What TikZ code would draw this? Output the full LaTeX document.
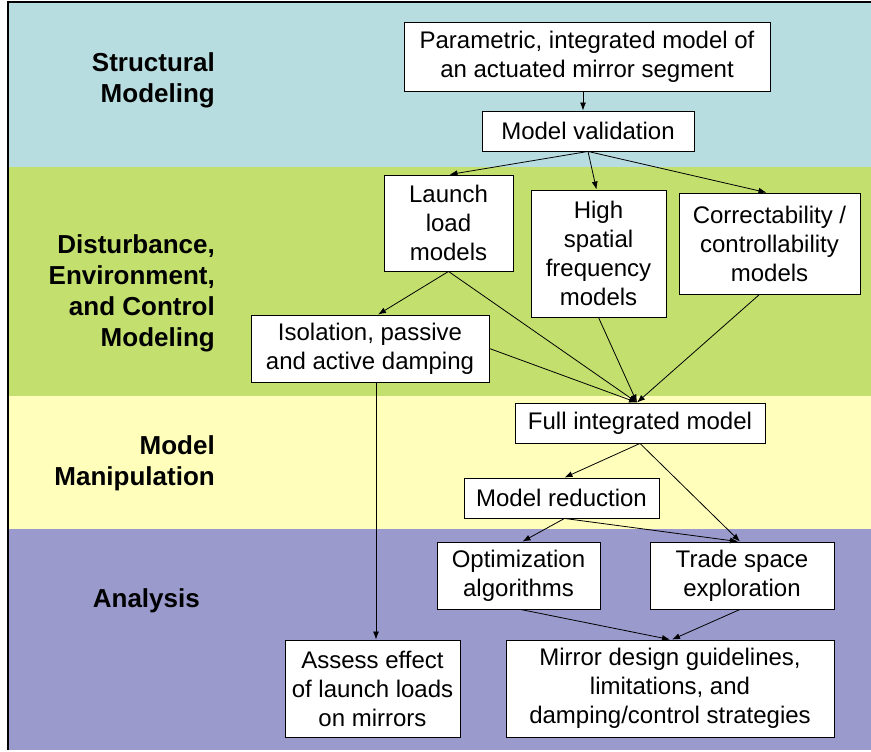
\documentclass[tikz,border=0pt]{standalone}
\usepackage{fontspec}
\setmainfont{Liberation Sans}
\usetikzlibrary{arrows.meta}
\definecolor{bandblue}{HTML}{B8DDE1}
\definecolor{bandgreen}{HTML}{C3DF6E}
\definecolor{bandyellow}{HTML}{FFFFBB}
\definecolor{bandpurple}{HTML}{9A9ACC}
\tikzset{
  box/.style={draw=black, line width=0.9pt, fill=white, inner sep=0pt, align=center,
    font=\fontsize{24}{29}\selectfont},
  lane/.style={anchor=east, align=right, inner sep=0pt, font=\fontsize{26}{31}\selectfont\bfseries},
  conn/.style={draw=black, line width=0.8pt, -{Latex[length=8pt,width=6pt]}}
}
\begin{document}
\begin{tikzpicture}[x=1pt,y=-1pt]
\useasboundingbox (0,0) rectangle (871,752);
% bands
\fill[white] (0,0) rectangle (871,752);
\fill[bandblue] (8,2) rectangle (871,167);
\fill[bandgreen] (8,167) rectangle (871,396);
\fill[bandyellow] (8,396) rectangle (871,529);
\fill[bandpurple] (8,529) rectangle (871,750);
\draw[black, line width=1.6pt] (8,750) -- (8,2) -- (871,2);
% lane labels
\node[lane] (l1) at (215,80.5) {Structural\\Modeling};
\node[lane] (l2) at (215,293) {Disturbance,\\Environment,\\and Control\\Modeling};
\node[lane] (l3) at (215,463.5) {Model\\Manipulation};
\node[lane] (l4) at (200,601) {Analysis};
% boxes
\node[box, minimum width=366pt, minimum height=69pt] (P) at (587,56.5) {Parametric, integrated model of\\an actuated mirror segment};
\node[box, minimum width=212pt, minimum height=40pt] (MV) at (588,131) {Model validation};
\node[box, minimum width=129pt, minimum height=96pt] (L) at (448.5,223) {Launch\\load\\models};
\node[box, minimum width=135pt, minimum height=127pt] (H) at (598.5,253.5) {High\\spatial\\frequency\\models};
\node[box, minimum width=181pt, minimum height=101pt] (C) at (769.5,243.5) {Correctability /\\controllability\\models};
\node[box, minimum width=238pt, minimum height=67pt] (I) at (370,348.5) {Isolation, passive\\and active damping};
\node[box, minimum width=250pt, minimum height=40pt] (F) at (640,423) {Full integrated model};
\node[box, minimum width=195pt, minimum height=40pt] (R) at (561.5,498) {Model reduction};
\node[box, minimum width=163pt, minimum height=67pt] (O) at (518.5,575.5) {Optimization\\algorithms};
\node[box, minimum width=184pt, minimum height=67pt] (T) at (742,575.5) {Trade space\\exploration};
\node[box, minimum width=175pt, minimum height=97pt] (A) at (372.5,688.5) {Assess effect\\of launch loads\\on mirrors};
\node[box, minimum width=328pt, minimum height=97pt] (M) at (670,688.5) {Mirror design guidelines,\\limitations, and\\damping/control strategies};
% connectors
\coordinate (fin) at ([xshift=-3pt]F.north);
\draw[conn] ([xshift=-4pt]P.south) -- ([xshift=-5pt]MV.north);
\draw[conn] (MV.south) -- ([xshift=1pt]L.north);
\draw[conn] (MV.south) -- ([xshift=-2pt]H.north);
\draw[conn] (MV.south) -- ([xshift=-3pt]C.north);
\draw[conn] (L.south) -- ([xshift=8pt]I.north);
\draw[conn] (L.south) -- (fin);
\draw[conn] (H.south) -- (fin);
\draw[conn] ([xshift=-10pt]C.south) -- (fin);
\draw[conn] (I.east) -- (fin);
\draw[conn] ([xshift=6pt]I.south) -- ([xshift=3.5pt]A.north);
\draw[conn] (F.south) -- ([xshift=3pt]R.north);
\draw[conn] (F.south) -- ([xshift=-2pt]T.north);
\draw[conn] ([xshift=3pt]R.south) -- ([xshift=4pt]O.north);
\draw[conn] ([xshift=3pt]R.south) -- ([xshift=-4pt]T.north);
\draw[conn] ([xshift=2pt]O.south) -- (M.north);
\draw[conn] ([xshift=-2pt]T.south) -- ([xshift=2pt]M.north);
\end{tikzpicture}
\end{document}
